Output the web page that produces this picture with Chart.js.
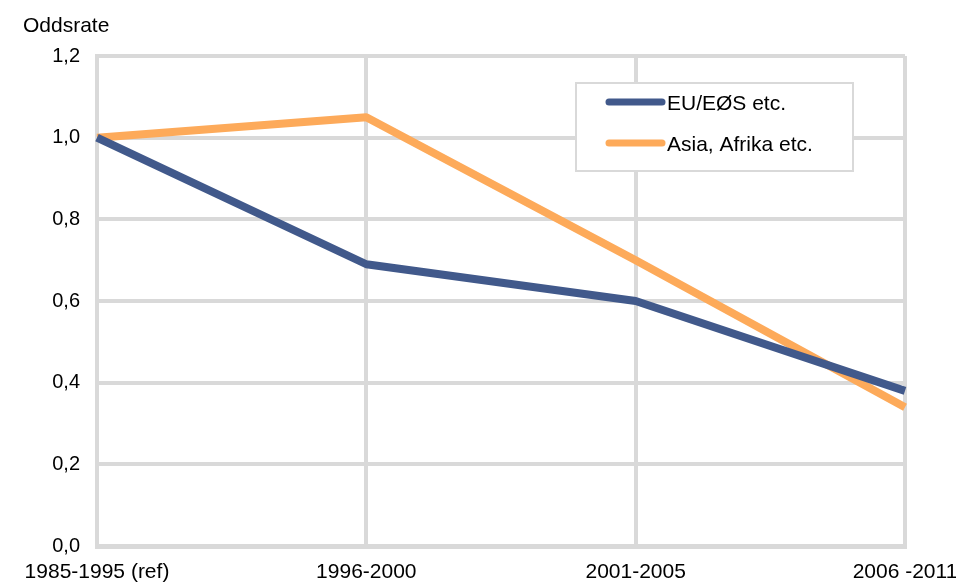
<!DOCTYPE html>
<html>
<head>
<meta charset="utf-8">
<script src="https://cdn.jsdelivr.net/npm/chart.js@4.4.1/dist/chart.umd.min.js"></script>
<style>
  html, body { margin: 0; padding: 0; background: #ffffff; }
  #wrap { width: 956px; height: 585px; position: relative; }
</style>
</head>
<body>
<div id="wrap"><canvas id="c" width="956" height="585"></canvas></div>
<script>
const categories = ["1985-1995 (ref)", "1996-2000", "2001-2005", "2006 -2011"];
const euValues = [1.0, 0.69, 0.60, 0.38];
const asiaValues = [1.0, 1.05, 0.70, 0.34];
const seriesNames = ["EU/EØS etc.", "Asia, Afrika etc."];
const yTitle = "Oddsrate";

const FONT = "'Liberation Sans', Arial, sans-serif";
const GRID = "#d9d9d9";
const colors = ["#41598b", "#fdaa5a"];

const overlayPlugin = {
  id: 'overlay',
  afterDraw(chart) {
    const ctx = chart.ctx;
    ctx.save();
    // axis title
    ctx.fillStyle = "#000";
    ctx.font = "21px " + FONT;
    ctx.textAlign = "left";
    ctx.textBaseline = "middle";
    ctx.fillText(yTitle, 23, 26);
    // legend box
    const bx = 576, by = 83, bw = 277, bh = 88;
    ctx.fillStyle = "#ffffff";
    ctx.fillRect(bx, by, bw, bh);
    ctx.strokeStyle = GRID;
    ctx.lineWidth = 2;
    ctx.strokeRect(bx, by, bw, bh);
    chart.data.datasets.forEach((ds, i) => {
      const y = 102 + i * 41;
      ctx.strokeStyle = ds.borderColor;
      ctx.lineWidth = 7;
      ctx.lineCap = "round";
      ctx.beginPath();
      ctx.moveTo(609, y);
      ctx.lineTo(662, y);
      ctx.stroke();
      ctx.fillStyle = "#000";
      ctx.font = "21px " + FONT;
      ctx.textBaseline = "middle";
      ctx.fillText(ds.label, 667, y + 2);
    });
    ctx.restore();
  }
};

new Chart(document.getElementById('c'), {
  type: 'line',
  data: {
    labels: categories,
    datasets: [
      { label: seriesNames[0], data: euValues, borderColor: colors[0], backgroundColor: colors[0],
        borderWidth: 8, pointRadius: 0, tension: 0, borderJoinStyle: 'round', fill: false },
      { label: seriesNames[1], data: asiaValues, borderColor: colors[1], backgroundColor: colors[1],
        borderWidth: 8, pointRadius: 0, tension: 0, borderJoinStyle: 'round', fill: false }
    ]
  },
  options: {
    responsive: false,
    animation: false,
    devicePixelRatio: 1,
    layout: { padding: { top: 56, left: 0, right: 51, bottom: 0 } },
    plugins: {
      legend: { display: false },
      tooltip: { enabled: false },
      title: { display: false }
    },
    scales: {
      x: {
        offset: false,
        grid: { color: GRID, lineWidth: 4, drawTicks: false },
        border: { display: true, color: GRID, width: 5 },
        ticks: {
          color: "#000",
          font: { family: FONT, size: 21 },
          padding: 14,
          maxRotation: 0,
          autoSkip: false
        },
        afterFit(scale) {
          scale.height = 39;
          scale.paddingLeft = 0;
          scale.paddingRight = 0;
        }
      },
      y: {
        min: 0,
        max: 1.2,
        grid: { color: GRID, lineWidth: 4, drawTicks: false },
        border: { display: true, color: GRID, width: 4 },
        ticks: {
          stepSize: 0.2,
          color: "#000",
          font: { family: FONT, size: 20 },
          padding: 17,
          callback: (v) => v.toFixed(1).replace('.', ',')
        },
        afterFit(scale) {
          scale.width = 97;
        }
      }
    }
  },
  plugins: [overlayPlugin]
});
</script>
</body>
</html>
